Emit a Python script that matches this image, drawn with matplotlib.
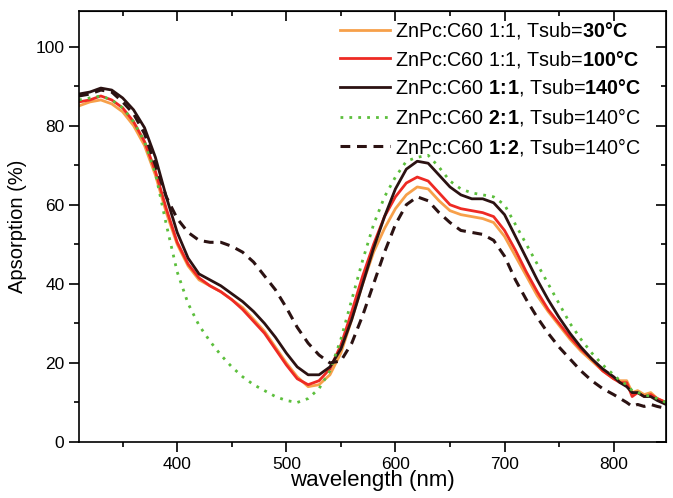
import matplotlib
matplotlib.use("Agg")
import matplotlib.pyplot as plt
from matplotlib.ticker import MultipleLocator

plt.rcParams["font.family"] = ["Liberation Sans", "DejaVu Sans"]
plt.rcParams["mathtext.fontset"] = "custom"
plt.rcParams["mathtext.rm"] = "Liberation Sans"
plt.rcParams["mathtext.bf"] = "Liberation Sans:bold"

# wavelength grid (nm) shared by all spectra
wl = [310, 320, 330, 340, 350, 360, 370, 380, 390, 400, 410, 420, 430, 440, 450,
      460, 470, 480, 490, 500, 510, 520, 530, 540, 550, 560, 570, 580, 590, 600,
      610, 620, 630, 640, 650, 660, 670, 680, 690, 700, 710, 720, 730, 740, 750,
      760, 770, 780, 790, 800, 806, 812, 817, 822, 828, 834, 840, 848]

abs_30 = [85, 86, 86.5, 85.5, 83.5, 80, 75, 67.5, 58, 50, 44.5, 41, 39.5, 38, 36,
          34, 31, 28, 24, 20, 16.5, 14, 14.5, 17, 22.5, 31, 40, 48, 54, 59,
          62.5, 64.5, 64, 61, 58.5, 57.5, 57, 56.5, 55.5, 52, 47, 42, 37, 33, 29.5,
          26, 23, 20.5, 18, 16, 15.5, 15.5, 12.5, 13, 12, 12.5, 11, 10]
abs_100 = [86, 86.5, 87.5, 86.5, 84.5, 81, 76, 68.5, 59, 50.5, 45, 41.5, 39.5, 38, 36,
           33.5, 30.5, 27.5, 23.5, 19.5, 16, 14.5, 15.5, 18.5, 24.5, 33, 42, 50, 57, 62,
           65.5, 67, 66, 63, 60, 59, 58.5, 58, 57, 53.5, 48.5, 43, 38, 33.5, 30,
           26.5, 23.5, 21, 18, 16, 15, 15, 11.5, 12.5, 11.5, 12, 11, 10]
abs_140 = [88, 88.5, 89.5, 89, 87, 84, 79.5, 72, 62, 53, 46.5, 42.5, 41, 39.5, 37.5,
           35.5, 33, 30, 26.5, 22.5, 19, 17, 17, 19, 23.5, 31, 40, 49, 57, 64,
           69, 71, 70.5, 67.5, 64.5, 62.5, 61.5, 61.5, 60.5, 57.5, 52, 46.5, 41, 36, 31.5,
           27.5, 24, 21, 18.5, 16.5, 15, 14, 12.5, 12.5, 11.5, 11.5, 10.5, 9.5]
abs_21 = [86.5, 87, 87.5, 86.5, 84.5, 81, 76, 68, 55, 43, 35, 29.5, 25.5, 22, 19,
          16.5, 14.5, 13, 11.5, 10.5, 10, 11, 13.5, 18, 26, 36, 46, 55, 62, 67,
          71, 72, 72.5, 69.5, 66, 64, 63, 62.5, 62, 60, 55, 50, 45, 40, 35,
          30, 26, 22.5, 19.5, 17, 15.5, 14.5, 13, 12.5, 12, 11.5, 11, 10]
abs_12 = [87.5, 88, 89, 88.5, 86, 83, 78, 70, 62, 56.5, 53, 51, 50.5, 50.5, 49.5,
          48, 45.5, 42, 38.5, 34, 29, 25, 22, 20, 20.5, 25, 32, 40, 48, 55,
          60, 62, 61, 58, 55.5, 53.5, 53, 52.5, 51, 47, 41, 36, 31.5, 27.5, 24,
          21, 18, 15.5, 13.5, 12, 11, 10, 9, 9.5, 9, 9.5, 9, 8.5]

labels = [
    r"ZnPc:C60 1:1, Tsub=$\mathbf{30°C}$",
    r"ZnPc:C60 1:1, Tsub=$\mathbf{100°C}$",
    r"ZnPc:C60 $\mathbf{1\!:\!1}$, Tsub=$\mathbf{140°C}$",
    r"ZnPc:C60 $\mathbf{2\!:\!1}$, Tsub=140°C",
    r"ZnPc:C60 $\mathbf{1\!:\!2}$, Tsub=140°C",
]

fig = plt.figure(figsize=(6.73, 4.98), dpi=100)
ax = fig.add_axes([0.1174, 0.1124, 0.8722, 0.8656])

ax.plot(wl, abs_30, color="#f7a04a", lw=2.0, label=labels[0])
ax.plot(wl, abs_100, color="#ee2a24", lw=2.0, label=labels[1])
ax.plot(wl, abs_140, color="#2b1212", lw=2.0, label=labels[2])
ax.plot(wl, abs_21, color="#5cbf3c", lw=2.0, ls=(0, (1, 2.2)), label=labels[3])
ax.plot(wl, abs_12, color="#2b1212", lw=2.2, ls=(0, (3.2, 2.2)), label=labels[4])

ax.set_xlim(310, 848)
ax.set_ylim(0, 109)
ax.xaxis.set_major_locator(MultipleLocator(100))
ax.xaxis.set_minor_locator(MultipleLocator(50))
ax.yaxis.set_major_locator(MultipleLocator(20))
ax.yaxis.set_minor_locator(MultipleLocator(10))
ax.tick_params(which="major", direction="out", length=7, width=1.2, labelsize=12.5)
ax.tick_params(which="minor", direction="out", length=3.5, width=1.2)
for sp in ax.spines.values():
    sp.set_linewidth(1.2)

top = ax.secondary_xaxis("top")
top.xaxis.set_major_locator(MultipleLocator(100))
top.xaxis.set_minor_locator(MultipleLocator(50))
top.tick_params(which="major", direction="in", length=7, width=1.2, labeltop=False)
top.tick_params(which="minor", direction="in", length=3.5, width=1.2)
right = ax.secondary_yaxis("right")
right.yaxis.set_major_locator(MultipleLocator(20))
right.yaxis.set_minor_locator(MultipleLocator(10))
right.tick_params(which="major", direction="in", length=7, width=1.2, labelright=False)
right.tick_params(which="minor", direction="in", length=3.5, width=1.2)

ax.set_xlabel("wavelength (nm)", fontsize=16, labelpad=-1)
ax.set_ylabel("Apsorption (%)", fontsize=14.5, labelpad=6)

ax.legend(loc="upper left", bbox_to_anchor=(0.4446, 0.9787), frameon=False,
          fontsize=14.2, handlelength=2.55, handletextpad=0.26, labelspacing=0.385,
          borderpad=0, borderaxespad=0)

fig.savefig("out.png", dpi=100)
